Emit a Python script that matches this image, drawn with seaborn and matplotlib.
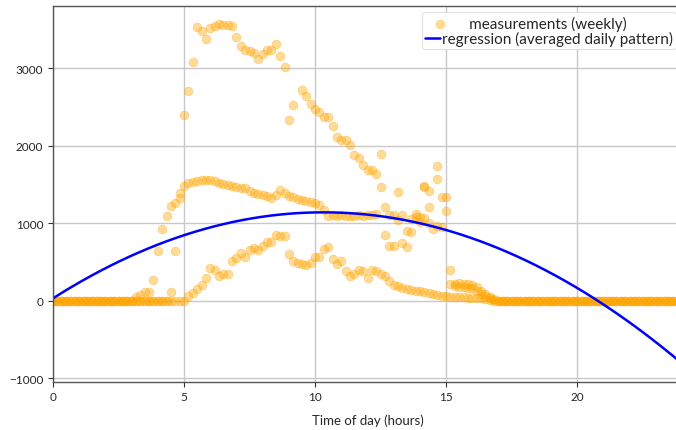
import numpy as np
import pandas as pd
import matplotlib
matplotlib.use("Agg")
import matplotlib.pyplot as plt
from matplotlib.collections import PathCollection
from matplotlib.legend_handler import HandlerPathCollection
import seaborn as sns

# ---- data (10-minute samples, hours 0..23.83) ----
samples_per_hour = 6
n_slots = 144

day_a_start = 4.5
day_a_values = [107, 636, 1330, 2400, 2700, 3080, 3530, 3475, 3375, 3520, 3540, 3575,
                3557, 3552, 3545, 3397, 3281, 3230, 3217, 3196, 3119, 3187, 3239, 3230,
                3312, 3161, 3015, 2335, 2520, np.nan, 2723, 2636, 2542, 2473, 2430, 2365,
                2365, 2249, 2107, 2077, 2068, 2004, 1884, 1841, 1755, 1681, 1690, 1639,
                1897, 852, 710, 700, 1403, 745, 693, 880, 1119, 1010, 1471, 1410,
                np.nan, 1742, 1333, 1333, 391, 215, 225, 220, 215, 205, 180, 130,
                90, 50, 20]

day_b_start = 3.1667
day_b_values = [50, 77, 107, 107, 271, 636, 925, 1097, 1217, 1260, 1390, 1475,
                1518, 1531, 1548, 1557, 1560, 1557, 1540, 1518, 1505, 1490, 1475, 1467,
                1458, 1450, 1410, 1395, 1375, 1360, 1346, 1325, 1368, 1423, 1390, 1355,
                1338, 1315, 1300, 1282, 1273, 1260, 1239, 1174, 1097, 1100, 1097, 1100,
                1097, 1095, 1097, 1100, 1097, 1110, 1110, 1115, 1467, 1209, 1110, 1100,
                1036, 1100, 903, 1050, 1080, 1080, 1067, 1000, 925, 960, 951, 1152,
                220, 190, 180, 175, 170, 160, 130, 90, 60, 30, 10]

day_c_start = 5.1667
day_c_values = [55, 100, 150, 207, 292, 421, 400, 314, 340, 348, 507, 550,
                615, 568, 650, 680, 658, 700, 760, 752, 850, 830, 830, 606,
                507, 486, 475, 460, 490, 563, 563, 667, 690, 538, 477, 516,
                378, 318, 340, 391, 378, 292, 400, 378, 348, 318, 258, 206,
                185, 163, 155, 140, 130, 120, 112, 95, 85, 70, 60, 55,
                50, 50, 45, 45, 40, 40, 35, 30, 20, 10]

extra_hours = [14.1667, 14.3333, 14.6667]
extra_values = [1480, 1204, 1574]

# quadratic regression coefficients (highest power first)
regression_coeffs = [-10.42, 215.1, 30.0]

xticks = [0, 5, 10, 15, 20]
yticks = [-1000, 0, 1000, 2000, 3000]


def day_frame(start, values):
    y = np.zeros(n_slots)
    k0 = int(round(start * samples_per_hour))
    y[k0:k0 + len(values)] = values
    hours = np.arange(n_slots) / samples_per_hour
    return pd.DataFrame({"hour": hours, "power": y})


frames = [day_frame(day_a_start, day_a_values),
          day_frame(day_b_start, day_b_values),
          day_frame(day_c_start, day_c_values),
          pd.DataFrame({"hour": extra_hours, "power": extra_values})]
df = pd.concat(frames, ignore_index=True).dropna()

x_fit = np.linspace(0, 24, 200)
y_fit = np.polyval(regression_coeffs, x_fit)


class RightMarker(HandlerPathCollection):
    def get_xdata(self, legend, xdescent, ydescent, width, height, fontsize):
        xdata, _ = super().get_xdata(legend, xdescent, ydescent, width, height, fontsize)
        return xdata, [-xdescent + width]


# ---- plot ----
sns.set_style("ticks")
plt.rcParams["font.family"] = ["Lato", "DejaVu Sans"]

fig = plt.figure(figsize=(6.76, 4.31), dpi=100)
W, H = 676, 431
left, right, top, bottom = 53, 682, 7.3, 382.5
ax = fig.add_axes([left / W, 1 - bottom / H, (right - left) / W, (bottom - top) / H])

ax.grid(True, color="#c8c8c8", linewidth=1.0)
ax.set_axisbelow(True)

sns.scatterplot(data=df, x="hour", y="power", ax=ax, color="orange", alpha=0.4,
                s=40, edgecolor="orange", linewidth=0.5,
                label="       measurements (weekly)")
sns.lineplot(x=x_fit, y=y_fit, ax=ax, color="blue", linewidth=1.8,
             label="regression (averaged daily pattern)")

ax.set_xlim(0, 24)
ax.set_ylim(-1043, 3799)
ax.set_xticks(xticks)
ax.set_yticks(yticks)
ax.tick_params(labelsize=8.5, length=3.5, color="#333333")
for s in ax.spines.values():
    s.set_color("#555555")
    s.set_linewidth(1.0)
ax.set_xlabel("Time of day (hours)", fontsize=9.5, labelpad=8)
ax.set_ylabel("")

leg = ax.legend(loc="upper right", fontsize=11, frameon=True, framealpha=0.9,
                edgecolor="#dddddd", handlelength=0.95, borderpad=0.2,
                handletextpad=0.15, labelspacing=0.05, borderaxespad=0.4,
                handler_map={PathCollection: RightMarker()})
leg.get_frame().set_linewidth(0.8)

fig.savefig("out.png", dpi=100)
